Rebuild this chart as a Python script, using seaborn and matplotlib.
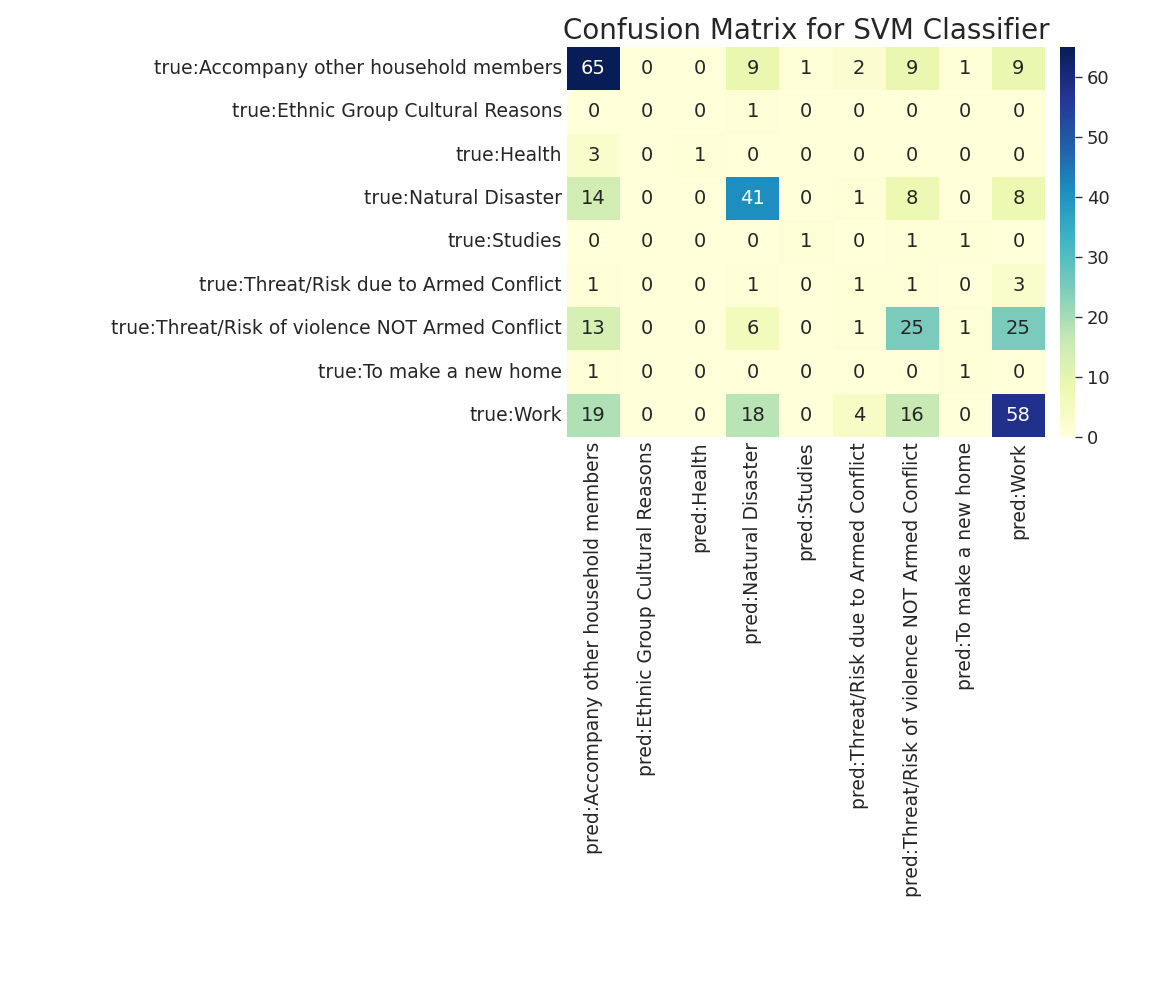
import matplotlib
matplotlib.use("Agg")
import matplotlib.pyplot as plt
import seaborn as sns
import pandas as pd
import numpy as np

sns.set()
sns.set_style("white")
plt.rcParams["font.family"] = ["DejaVu Sans"]

classes = [
    "Accompany other household members",
    "Ethnic Group Cultural Reasons",
    "Health",
    "Natural Disaster",
    "Studies",
    "Threat/Risk due to Armed Conflict",
    "Threat/Risk of violence NOT Armed Conflict",
    "To make a new home",
    "Work",
]

counts = [
    [65, 0, 0, 9, 1, 2, 9, 1, 9],
    [0, 0, 0, 1, 0, 0, 0, 0, 0],
    [3, 0, 1, 0, 0, 0, 0, 0, 0],
    [14, 0, 0, 41, 0, 1, 8, 0, 8],
    [0, 0, 0, 0, 1, 0, 1, 1, 0],
    [1, 0, 0, 1, 0, 1, 1, 0, 3],
    [13, 0, 0, 6, 0, 1, 25, 1, 25],
    [1, 0, 0, 0, 0, 0, 0, 1, 0],
    [19, 0, 0, 18, 0, 4, 16, 0, 58],
]

cm = pd.DataFrame(counts,
                  index=["true:" + c for c in classes],
                  columns=["pred:" + c for c in classes])

fig = plt.figure(figsize=(11.58, 10.06), dpi=100)
ax = fig.add_axes([0.4896, 0.5656, 0.4128, 0.3877])
cax = fig.add_axes([0.9154, 0.5656, 0.013, 0.3877])

sns.heatmap(cm, annot=True, fmt="d", cmap="YlGnBu", ax=ax, cbar_ax=cax,
            annot_kws={"size": 14})
ax.set_title("Confusion Matrix for SVM Classifier", fontsize=20)
ax.tick_params(axis="both", labelsize=13.5, length=0)
plt.setp(ax.get_yticklabels(), rotation=0)
plt.setp(ax.get_xticklabels(), rotation=90)
cax.tick_params(labelsize=13, length=5, width=1, color="#333333", left=False, right=True)
cax.set_yticks([0, 10, 20, 30, 40, 50, 60])

plt.savefig("out.png", dpi=100)
